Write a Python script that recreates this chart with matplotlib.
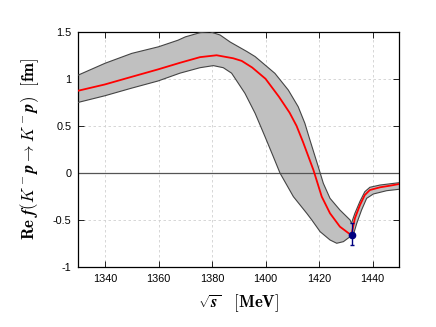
import matplotlib
matplotlib.use("Agg")
import matplotlib.pyplot as plt
import numpy as np

plt.rcParams['mathtext.fontset'] = 'cm'
plt.rcParams['font.family'] = ['Liberation Sans', 'DejaVu Sans']

# central (red) curve: below and above the K-bar N threshold
x_c1 = [1330, 1339.9, 1349.8, 1359.8, 1368, 1375.5, 1381.7, 1387.9, 1391.1, 1395, 1400, 1405,
        1409, 1411.6, 1414, 1417.9, 1421, 1424.1, 1427.8, 1431.6, 1432.1]
y_c1 = [0.874, 0.94, 1.02, 1.10, 1.17, 1.23, 1.25, 1.218, 1.19, 1.12, 1.0, 0.81,
        0.64, 0.5, 0.33, 0.032, -0.25, -0.427, -0.569, -0.65, -0.657]
x_c2 = [1432.1, 1433.4, 1435.3, 1437.1, 1439, 1442.8, 1446.5, 1450]
y_c2 = [-0.657, -0.48, -0.339, -0.233, -0.18, -0.151, -0.134, -0.116]

# band: upper edge / lower edge, below threshold
x_u1 = [1330, 1340, 1350, 1360, 1367.3, 1370, 1375.5, 1379.2, 1383, 1386.8, 1393, 1396.1, 1403.5,
        1408.5, 1412.2, 1414.7, 1416.6, 1419.7, 1421.6, 1424.1, 1427.8, 1431.6, 1432.1]
y_u1 = [1.04, 1.165, 1.27, 1.34, 1.41, 1.445, 1.49, 1.50, 1.465, 1.39, 1.29, 1.236, 1.058,
        0.881, 0.704, 0.528, 0.35, 0.068, -0.109, -0.268, -0.392, -0.498, -0.533]
x_l1 = [1330, 1339.9, 1349.8, 1359.8, 1368, 1375.5, 1380.5, 1384.2, 1387.3, 1388.6, 1392.3, 1396.1,
        1399.8, 1402.9, 1405.4, 1410.4, 1415.4, 1417.3, 1420.4, 1424.1, 1426.6, 1429.1, 1431.6, 1432.1]
y_l1 = [0.75, 0.82, 0.90, 0.977, 1.06, 1.118, 1.14, 1.118, 1.06, 1.005, 0.846, 0.634,
        0.386, 0.174, 0.0, -0.25, -0.427, -0.498, -0.622, -0.71, -0.745, -0.728, -0.675, -0.66]
# band above threshold
x_u2 = [1432.1, 1433.4, 1435.3, 1437.1, 1439, 1442.8, 1450]
y_u2 = [-0.533, -0.427, -0.30, -0.198, -0.151, -0.127, -0.102]
x_l2 = [1432.1, 1432.8, 1434.1, 1435.9, 1437.8, 1440.3, 1445.3, 1450]
y_l2 = [-0.66, -0.657, -0.533, -0.392, -0.268, -0.222, -0.187, -0.172]

# data point
x_pt = [1432.2]
y_pt = [-0.657]
y_err_lo = [0.106]
y_err_hi = [0.124]

xticks = [1340, 1360, 1380, 1400, 1420, 1440]
yticks = [-1, -0.5, 0, 0.5, 1, 1.5]
yticklabels = ['-1', '-0.5', '0', '0.5', '1', '1.5']

fig = plt.figure(figsize=(4.36, 3.27), dpi=100)
ax = fig.add_axes([78.3/436, 1 - 267.3/327, (399.3-78.3)/436, (267.3-31.7)/327])

for xu, yu, xl, yl in [(x_u1, y_u1, x_l1, y_l1), (x_u2, y_u2, x_l2, y_l2)]:
    px = np.r_[xu, xl[::-1]]
    py = np.r_[yu, yl[::-1]]
    ax.fill(px, py, color='#c0c0c0', lw=0, zorder=2)
    ax.plot(xu, yu, color='#444444', lw=0.8, zorder=3)
    ax.plot(xl, yl, color='#444444', lw=0.8, zorder=3)

ax.axhline(0, color='#555555', lw=0.9, zorder=2.5)
ax.plot(x_c1, y_c1, color='#ff0000', lw=1.3, zorder=4)
ax.plot(x_c2, y_c2, color='#ff0000', lw=1.3, zorder=4)
ax.errorbar(x_pt, y_pt, yerr=[y_err_lo, y_err_hi], fmt='o', color='#000080',
            ms=4.5, capsize=1.5, elinewidth=1.0, capthick=1.0, zorder=5)

ax.set_xlim(1330, 1450)
ax.set_ylim(-1, 1.5)
ax.set_xticks(xticks)
ax.set_yticks(yticks)
ax.set_yticklabels(yticklabels)
ax.grid(True, color='#d0d0d0', ls=(0, (3, 3)), lw=0.6, zorder=0)
ax.tick_params(direction='in', top=True, right=True, labelsize=7.8, length=4, width=0.6, pad=5)
for s in ax.spines.values():
    s.set_linewidth(0.9)

ax.set_ylabel(r'$\mathbf{Re}\ \boldsymbol{f(K^-p\rightarrow K^-p)}\ \ \mathbf{[fm]}$', fontsize=12, labelpad=8)
ax.set_xlabel(r'$\sqrt{\boldsymbol{s}}\ \ \ \mathbf{[MeV]}$', fontsize=12, labelpad=6)

fig.savefig('out.png', dpi=100)
